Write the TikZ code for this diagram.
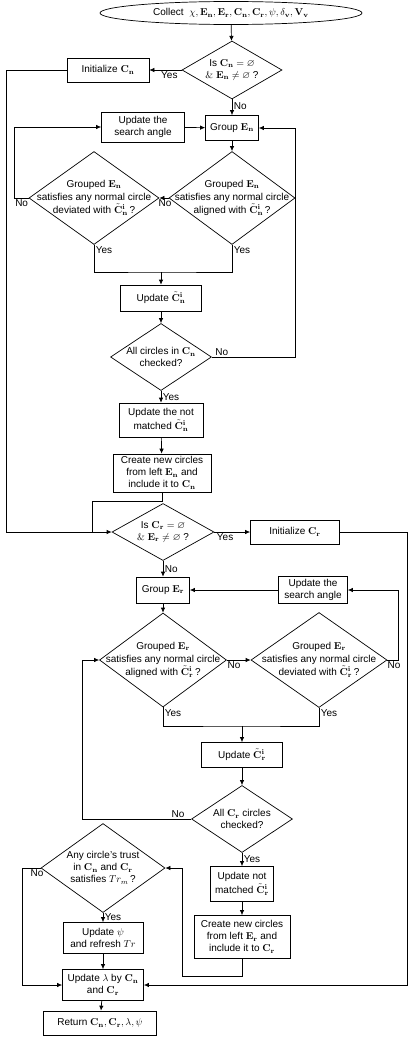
\documentclass[tikz,border=0pt]{standalone}
\usepackage{amssymb}
\usepackage[no-math]{fontspec}
\setmainfont{Liberation Sans}
\usetikzlibrary{shapes.geometric,arrows.meta}

\begin{document}
\begin{tikzpicture}[x=1pt, y=-1pt, line width=0.7pt, font=\fontsize{10}{12}\selectfont,
    box/.style={draw, align=center, inner sep=1pt},
    decision/.style={draw, diamond, inner sep=0pt},
    txt/.style={align=center, inner sep=0pt},
    arr/.style={-{Latex[length=5pt,width=4.5pt]}},
    lbl/.style={inner sep=1.5pt}]
    \useasboundingbox (0,0) rectangle (415,1044);

    % normal circles
    \node[draw, ellipse, minimum width=262pt, minimum height=23pt, inner sep=0pt] (start) at (231,13) {};
    \node[txt] (startT) at (start) {Collect~ $\chi, \mathbf{E_n}, \mathbf{E_r}, \mathbf{C_n}, \mathbf{C_r}, \psi, \delta_\mathbf{v}, \mathbf{V_v}$};
    \node[decision, minimum width=100pt, minimum height=58pt] (isN) at (232,70) {};
    \node[txt] (isNT) at (isN) {Is $\mathbf{C_n} = \varnothing$\\ $\&\ \mathbf{E_n} \neq \varnothing$ ?};
    \node[box, minimum width=82pt, minimum height=24pt] (initN) at (108,70) {Initialize $\mathbf{C_n}$};
    \node[box, minimum width=83pt, minimum height=30pt] (srchN) at (143,127) {Update the\\search angle};
    \node[box, minimum width=53pt, minimum height=25pt] (grpN) at (232,128) {Group $\mathbf{E_n}$};
    \node[decision, minimum width=126pt, minimum height=93pt] (alN) at (232,198) {};
    \node[txt] (alNT) at (alN) {Grouped $\mathbf{E_n}$\\[1pt]satisfies any normal circle\\[1pt]aligned with $\tilde{\mathbf{C}}_\mathbf{n}^\mathbf{i}$\,?};
    \node[decision, minimum width=130pt, minimum height=93pt] (devN) at (94,198) {};
    \node[txt] (devNT) at (devN) {Grouped $\mathbf{E_n}$\\[1pt]satisfies any normal circle\\[1pt]deviated with $\tilde{\mathbf{C}}_\mathbf{n}^\mathbf{i}$\,?};
    \node[box, minimum width=81pt, minimum height=26pt] (updN) at (161,298) {Update $\tilde{\mathbf{C}}_\mathbf{n}^\mathbf{i}$};
    \node[decision, minimum width=101pt, minimum height=67pt] (allN) at (161,357) {};
    \node[txt] (allNT) at (allN) {All circles in $\mathbf{C_n}$\\checked?};
    \node[box, minimum width=84pt, minimum height=34pt] (nmN) at (161,420) {Update the not\\[2pt]matched $\tilde{\mathbf{C}}_\mathbf{n}^\mathbf{i}$};
    \node[box, minimum width=98pt, minimum height=38pt] (crN) at (162,473) {Create new circles\\from left $\mathbf{E_n}$ and\\include it to $\mathbf{C_n}$};

    % reference circles
    \node[decision, minimum width=102pt, minimum height=57pt] (isR) at (163,532) {};
    \node[txt] (isRT) at (isR) {Is $\mathbf{C_r} = \varnothing$\\ $\&\ \mathbf{E_r} \neq \varnothing$ ?};
    \node[box, minimum width=89pt, minimum height=24pt] (initR) at (295,532) {Initialize $\mathbf{C_r}$};
    \node[box, minimum width=53pt, minimum height=26pt] (grpR) at (163,590) {Group $\mathbf{E_r}$};
    \node[box, minimum width=69pt, minimum height=27pt] (srchR) at (313,590) {Update the\\search angle};
    \node[decision, minimum width=127pt, minimum height=94pt] (alR) at (163,660) {};
    \node[txt] (alRT) at (alR) {Grouped $\mathbf{E_r}$\\[1pt]satisfies any normal circle\\[1pt]aligned with $\tilde{\mathbf{C}}_\mathbf{r}^\mathbf{i}$\,?};
    \node[decision, minimum width=136pt, minimum height=95pt] (devR) at (319,660) {};
    \node[txt] (devRT) at (devR) {Grouped $\mathbf{E_r}$\\[1pt]satisfies any normal circle\\[1pt]deviated with $\tilde{\mathbf{C}}_\mathbf{r}^\mathbf{i}$\,?};
    \node[box, minimum width=81pt, minimum height=25pt] (updR) at (242,755) {Update $\tilde{\mathbf{C}}_\mathbf{r}^\mathbf{i}$};
    \node[decision, minimum width=101pt, minimum height=67pt] (allR) at (242,819) {};
    \node[txt] (allRT) at (allR) {All $\mathbf{C_r}$ circles\\checked?};
    \node[box, minimum width=63pt, minimum height=35pt] (nmR) at (242,884) {Update not\\[2pt]matched $\tilde{\mathbf{C}}_\mathbf{r}^\mathbf{i}$};
    \node[box, minimum width=96pt, minimum height=43pt] (crR) at (242,937) {Create new circles\\from left $\mathbf{E_r}$ and\\include it to $\mathbf{C_r}$};

    % trust and output
    \node[decision, minimum width=124pt, minimum height=89pt] (trust) at (103,868) {};
    \node[txt] (trustT) at (trust) {Any circle's trust\\in $\mathbf{C_n}$ and $\mathbf{C_r}$\\satisfies $Tr_m$\,?};
    \node[box, minimum width=80pt, minimum height=31pt] (updPsi) at (103,938) {Update $\psi$\\and refresh $Tr$};
    \node[box, minimum width=81pt, minimum height=31pt] (updL) at (103,985) {Update $\lambda$ by $\mathbf{C_n}$\\and $\mathbf{C_r}$};
    \node[box, minimum width=113pt, minimum height=24pt] (ret) at (100,1023) {Return $\mathbf{C_n}, \mathbf{C_r}, \lambda, \psi$};

    \coordinate (jN) at (161,272);
    \coordinate (jR) at (92,532);
    \coordinate (jR2) at (242,726);
    \coordinate (tE) at (182,868);

    % connectors
    \draw[arr] (start) -- (isN);
    \draw[arr] (isN) -- node[lbl, below, pos=0.38] (yes1) {Yes} (initN);
    \draw[arr] (initN.west) -- ++(-60,0) |- (isR.west);
    \draw[arr] (isN) -- node[lbl, right, pos=0.45] (no1) {No} (grpN);
    \draw[arr] (srchN) -- (grpN);
    \draw[arr] (grpN) -- (alN);
    \draw[arr] (alN) -- node[lbl, below, pos=0.4] (no2) {No} (devN);
    \draw[arr] (devN.west) -- node[lbl, below, pos=0.5] (no3) {No} ++(-14,0) |- (srchN.west);
    \draw (devN.south) |- (jN) -| (alN.south);
    \node[lbl, anchor=north west] (yes2) at (devN.south) {Yes};
    \node[lbl, anchor=north west] (yes3) at (alN.south) {Yes};
    \draw[arr] (jN) -- (updN);
    \draw[arr] (updN) -- (allN);
    \draw[arr] (allN.east) -- node[lbl, above, pos=0.12] (no4) {No} ++(83,0) |- (grpN.east);
    \draw[arr] (allN) -- node[lbl, right, pos=0.5] (yes4) {Yes} (nmN);
    \draw[arr] (nmN) -- (crN);
    \draw (crN.south) -- ++(0,9) -| (jR);

    \draw[arr] (isR) -- node[lbl, below, pos=0.3] (yes5) {Yes} (initR);
    \draw[arr] (initR.east) -- ++(67.5,0) |- (updL.east);
    \draw[arr] (isR) -- node[lbl, right, pos=0.5] (no5) {No} (grpR);
    \draw[arr] (srchR) -- (grpR);
    \draw[arr] (grpR) -- (alR);
    \draw[arr] (alR) -- node[lbl, below, pos=0.3] (no6) {No} (devR);
    \draw[arr] (devR.east) -- node[lbl, below, pos=0.6] (no7) {No} ++(11,0) |- (srchR.east);
    \draw (alR.south) |- (jR2) -| (devR.south);
    \node[lbl, anchor=north west] (yes6) at (alR.south) {Yes};
    \node[lbl, anchor=north west] (yes7) at (devR.south) {Yes};
    \draw[arr] (jR2) -- (updR);
    \draw[arr] (updR) -- (allR);
    \draw[arr] (allR.west) -- node[lbl, above, pos=0.12] (no8) {No} ++(-108.5,0) |- (alR.west);
    \draw[arr] (allR) -- node[lbl, right, pos=0.5] (yes8) {Yes} (nmR);
    \draw[arr] (nmR) -- (crR);
    \draw[arr] (crR.south) -- ++(0,17) -| (tE) -- (trust.east);

    \draw[arr] (trust.west) -- node[lbl, below, pos=0.2] (no9) {No} ++(-18,0) |- (updL.west);
    \draw[arr] (trust) -- node[lbl, right, pos=0.5] (yes9) {Yes} (updPsi);
    \draw[arr] (updPsi) -- (updL);
    \draw[arr] (updL) -- (ret);
\end{tikzpicture}
\end{document}
